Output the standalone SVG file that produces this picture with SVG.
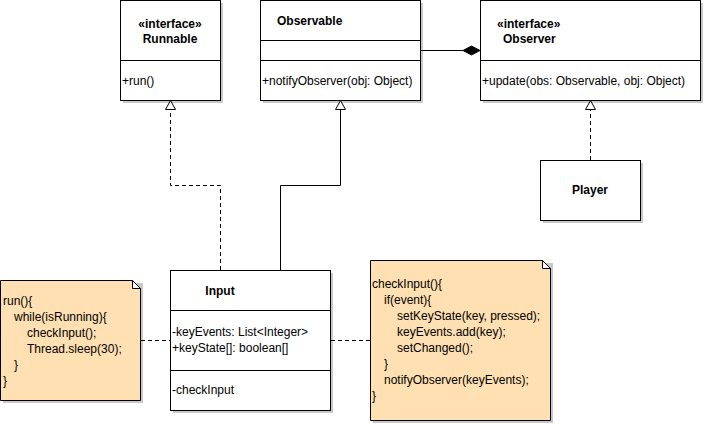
<svg xmlns="http://www.w3.org/2000/svg" width="705" height="425" viewBox="0 0 705 425">
<style>
.box{fill:#fff;stroke:#000;stroke-width:1}
.sh{fill:#c8c8c8}
.note{fill:#ffe0b2;stroke:#000;stroke-width:1}
.ln{fill:none;stroke:#000;stroke-width:1}
.dash{fill:none;stroke:#000;stroke-width:1;stroke-dasharray:4,3}
.tri{fill:#fff;stroke:#000;stroke-width:1}
text{font-family:"Liberation Sans",Arial,Helvetica,sans-serif;font-size:12px;fill:#000}
.b{font-weight:bold}
.c{text-anchor:middle}
</style>
<rect width="705" height="425" fill="#fff"/>
<g id="Runnable">
<rect class="sh" x="123" y="3" width="100" height="100"/>
<rect class="box" x="120.5" y="0.5" width="100" height="100"/>
<line class="ln" x1="120.5" y1="60.5" x2="220.5" y2="60.5"/>
<text class="b c" x="170" y="28">«interface»</text>
<text class="b c" x="170" y="43">Runnable</text>
<text x="122" y="85">+run()</text>
</g>
<g id="Observable">
<rect class="sh" x="263" y="3" width="160" height="100"/>
<rect class="box" x="260.5" y="0.5" width="160" height="100"/>
<line class="ln" x1="260.5" y1="40.5" x2="420.5" y2="40.5"/>
<line class="ln" x1="260.5" y1="60.5" x2="420.5" y2="60.5"/>
<text class="b" x="277" y="25">Observable</text>
<text x="262" y="85">+notifyObserver(obj: Object)</text>
</g>
<g id="Observer">
<rect class="sh" x="483" y="3" width="220" height="100"/>
<rect class="box" x="480.5" y="0.5" width="220" height="100"/>
<line class="ln" x1="480.5" y1="60.5" x2="700.5" y2="60.5"/>
<text class="b" x="497" y="28">«interface»</text>
<text class="b" x="503" y="43">Observer</text>
<text x="482" y="85">+update(obs: Observable, obj: Object)</text>
</g>
<g id="Player">
<rect class="sh" x="543" y="163" width="100" height="60"/>
<rect class="box" x="540.5" y="160.5" width="100" height="60"/>
<text class="b c" x="590" y="194">Player</text>
</g>
<g id="Input">
<rect class="sh" x="173" y="273" width="160" height="140"/>
<rect class="box" x="170.5" y="270.5" width="160" height="140"/>
<line class="ln" x1="170.5" y1="310.5" x2="330.5" y2="310.5"/>
<line class="ln" x1="170.5" y1="370.5" x2="330.5" y2="370.5"/>
<text class="b c" x="220" y="295">Input</text>
<text x="172" y="336">-keyEvents: List&lt;Integer&gt;</text>
<text x="172" y="352">+keyState[]: boolean[]</text>
<text x="172" y="394">-checkInput</text>
</g>
<g id="Note1">
<path class="sh" d="M3,283 H143 V403 H3 Z"/>
<path class="note" d="M0.5,280.5 H132.5 L140.5,288.5 V400.5 H0.5 Z"/>
<path d="M132.5,280.5 L140.5,288.5 H132.5 Z" fill="#fff" stroke="#000"/>
<text x="3" y="305">run(){</text>
<text x="14" y="321">while(isRunning){</text>
<text x="27" y="337">checkInput();</text>
<text x="27" y="353">Thread.sleep(30);</text>
<text x="14" y="369">}</text>
<text x="3" y="385">}</text>
</g>
<g id="Note2">
<path class="sh" d="M373,263 H553 V423 H373 Z"/>
<path class="note" d="M370.5,260.5 H542.5 L550.5,268.5 V420.5 H370.5 Z"/>
<path d="M542.5,260.5 L550.5,268.5 H542.5 Z" fill="#fff" stroke="#000"/>
<text x="372" y="288">checkInput(){</text>
<text x="384" y="304">if(event){</text>
<text x="397" y="320">setKeyState(key, pressed);</text>
<text x="397" y="336">keyEvents.add(key);</text>
<text x="397" y="352">setChanged();</text>
<text x="384" y="368">}</text>
<text x="384" y="384">notifyObserver(keyEvents);</text>
<text x="372" y="400">}</text>
</g>
<g id="connectors">
<polyline class="dash" points="220.5,270 220.5,185.5 170.5,185.5 170.5,109"/>
<polygon class="tri" points="170.5,100.5 165.5,109.5 175.5,109.5"/>
<polyline class="ln" points="280.5,270 280.5,185.5 340.5,185.5 340.5,109"/>
<polygon class="tri" points="340.5,100.5 335.5,109.5 345.5,109.5"/>
<line class="dash" x1="590.5" y1="160" x2="590.5" y2="109"/>
<polygon class="tri" points="590.5,100.5 585.5,109.5 595.5,109.5"/>
<line class="ln" x1="420.5" y1="50.5" x2="463" y2="50.5"/>
<polygon points="480,50.5 471.5,46 463,50.5 471.5,55" fill="#000" stroke="#000"/>
<line class="dash" x1="141" y1="340.5" x2="170" y2="340.5"/>
<line class="dash" x1="331" y1="340.5" x2="370" y2="340.5"/>
</g>
</svg>
